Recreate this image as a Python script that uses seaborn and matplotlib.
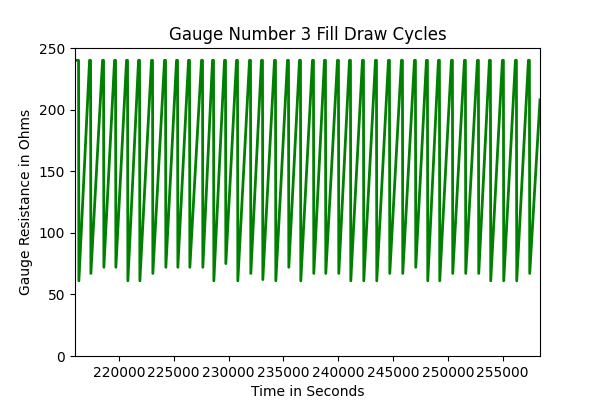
import numpy as np
import pandas as pd
import matplotlib
matplotlib.use("Agg")
import matplotlib.pyplot as plt
import seaborn as sns

# trough times (s) and trough resistance (ohms)
trough_t = [216354, 217448, 218633, 219727, 220820, 221914, 223099, 224284, 225378,
            226472, 227657, 228660, 229753, 230847, 232032, 233126, 234311, 235496,
            236589, 237774, 238868, 240053, 241147, 242332, 243517, 244702, 245887,
            247072, 248165, 249259, 250444, 251629, 252814, 253908, 255093, 256278,
            257463]
trough_v = [61, 67, 72, 72, 61, 61, 67, 72, 72, 72, 72, 61, 75, 61, 67, 62, 61, 72,
            61, 67, 67, 67, 61, 61, 61, 67, 67, 72, 61, 61, 67, 67, 67, 61, 61, 61, 67]
peak_v = 240
start_t, end_t, end_v = 216000, 258400, 208

# build the sawtooth trace: rise to peak, short hold, sharp drop
ts = [start_t, trough_t[0] - 30]
vs = [peak_v, peak_v]
for i, (t, v) in enumerate(zip(trough_t, trough_v)):
    ts.append(t)
    vs.append(v)
    if i + 1 < len(trough_t):
        nxt = trough_t[i + 1]
        ts += [nxt - 120, nxt - 30]
        vs += [peak_v, peak_v]
ts.append(end_t)
vs.append(end_v)
df = pd.DataFrame({"t": ts, "v": vs})

fig, ax = plt.subplots(figsize=(6, 4), dpi=100)
sns.lineplot(data=df, x="t", y="v", color="green", linewidth=2, ax=ax)
ax.set_xlim(start_t, end_t)
ax.set_ylim(0, 250)
ax.set_xticks(np.arange(220000, 258000, 5000))
ax.ticklabel_format(axis="x", style="plain", useOffset=False)
ax.set_title("Gauge Number 3 Fill Draw Cycles")
ax.set_xlabel("Time in Seconds")
ax.set_ylabel("Gauge Resistance in Ohms")
fig.subplots_adjust(left=0.125, right=0.9, bottom=0.11, top=0.88)
fig.savefig("out.png")
